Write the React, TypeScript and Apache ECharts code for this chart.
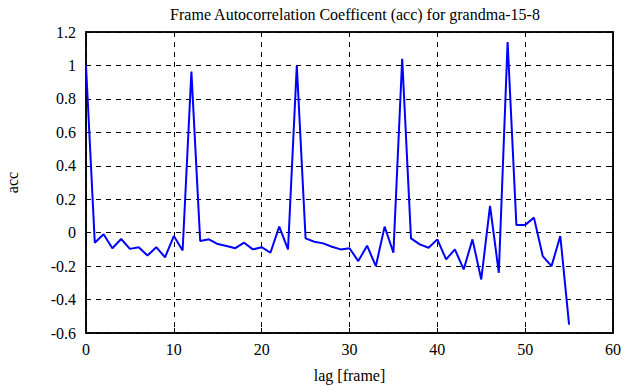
import React, { useEffect, useRef } from "react";
import * as echarts from "echarts";

const lags: number[] = Array.from({ length: 56 }, (_, i) => i);
const accValues: number[] = [
  1.0, -0.06, -0.01, -0.093, -0.038, -0.097, -0.087, -0.137, -0.087, -0.147,
  -0.02, -0.107, 0.963, -0.05, -0.04, -0.068, -0.08, -0.093, -0.06, -0.1,
  -0.087, -0.12, 0.036, -0.1, 1.0, -0.034, -0.054, -0.064, -0.084, -0.1,
  -0.093, -0.17, -0.078, -0.2, 0.036, -0.12, 1.04, -0.034, -0.07, -0.09,
  -0.04, -0.16, -0.1, -0.22, -0.04, -0.28, 0.16, -0.24, 1.14, 0.046,
  0.046, 0.09, -0.14, -0.2, -0.02, -0.55,
];
const titleText = "Frame Autocorrelation Coefficent (acc) for grandma-15-8";
const xLabel = "lag [frame]";
const yLabel = "acc";

export default function App() {
  const ref = useRef<HTMLDivElement>(null);
  useEffect(() => {
    if (!ref.current) return;
    const chart = echarts.init(ref.current, undefined, { renderer: "svg" });
    const font = "'Liberation Serif', serif";
    const split = { show: true, lineStyle: { color: "#000", type: [5, 5] as any, width: 1 } };
    const line = { show: true, onZero: false, lineStyle: { color: "#000", width: 1.5 } };
    const tick = { show: true, inside: true, length: 5, lineStyle: { color: "#000" } };
    chart.setOption({
      animation: false,
      backgroundColor: "#fff",
      textStyle: { fontFamily: font, color: "#000" },
      title: {
        text: titleText,
        left: 350,
        textAlign: "center",
        top: 1,
        textStyle: { fontFamily: font, fontSize: 16, fontWeight: "normal", color: "#000" },
      },
      grid: {
        left: 86, right: 22, top: 32, bottom: 54,
        containLabel: false, outerBoundsMode: "none",
        show: true, borderColor: "#000", borderWidth: 1.5,
      },
      xAxis: [
        {
          type: "value", min: 0, max: 60, interval: 10,
          name: xLabel, nameLocation: "middle", nameGap: 34,
          nameTextStyle: { fontFamily: font, fontSize: 16, color: "#000" },
          axisLine: line,
          axisTick: tick,
          axisLabel: { fontFamily: font, fontSize: 16, color: "#000", margin: 8 },
          splitLine: split,
        },
        {
          type: "value", min: 0, max: 60, interval: 10, position: "top",
          axisLine: line, axisTick: tick,
          axisLabel: { show: false }, splitLine: { show: false },
        },
      ],
      yAxis: [
        {
          type: "value", min: -0.6, max: 1.2, interval: 0.2,
          name: yLabel, nameLocation: "middle", nameGap: 66,
          nameTextStyle: { fontFamily: font, fontSize: 16, color: "#000" },
          axisLine: line,
          axisTick: tick,
          axisLabel: {
            fontFamily: font, fontSize: 16, color: "#000", margin: 10,
            formatter: (v: number) => String(Math.round(v * 10) / 10),
          },
          splitLine: split,
        },
        {
          type: "value", min: -0.6, max: 1.2, interval: 0.2, position: "right",
          axisLine: line, axisTick: tick,
          axisLabel: { show: false }, splitLine: { show: false },
        },
      ],
      series: [
        {
          type: "line",
          data: lags.map((l, i) => [l, accValues[i]]),
          showSymbol: false,
          lineStyle: { color: "#0000ff", width: 2 },
          itemStyle: { color: "#0000ff" },
        },
      ],
    });
    return () => chart.dispose();
  }, []);
  return <div ref={ref} style={{ width: 635, height: 387, position: "absolute", left: 0, top: 0 }} />;
}
